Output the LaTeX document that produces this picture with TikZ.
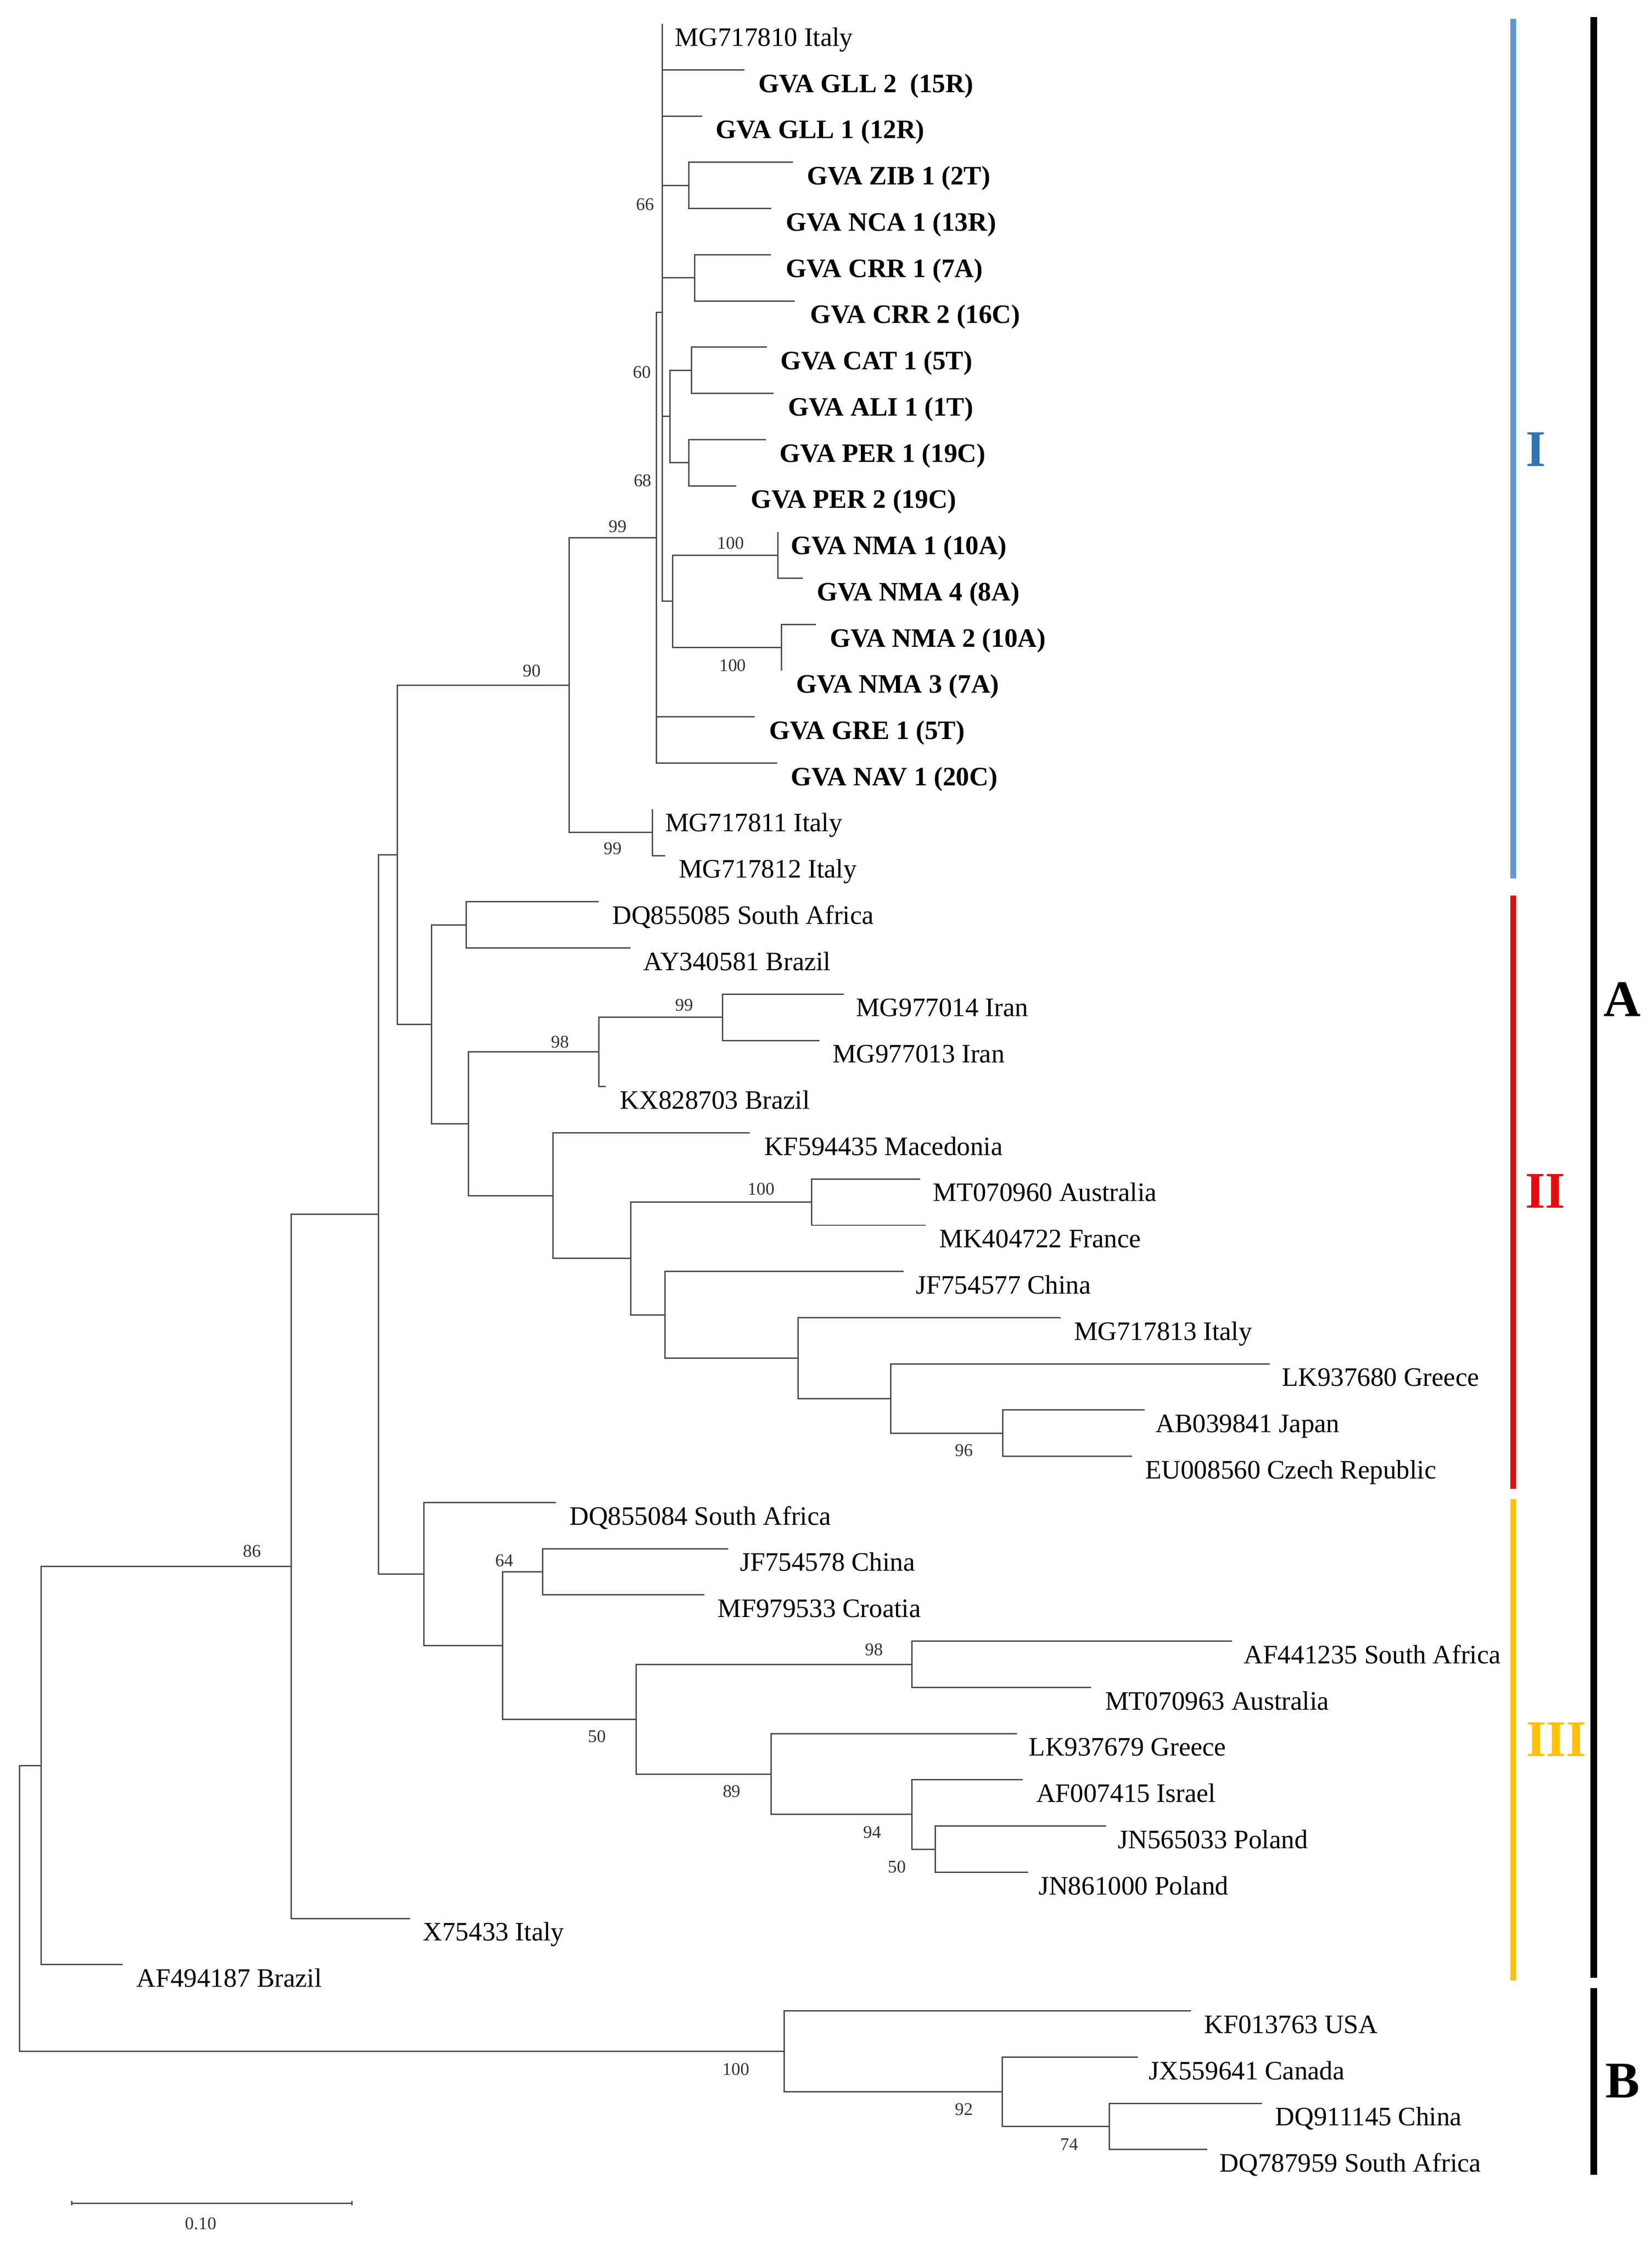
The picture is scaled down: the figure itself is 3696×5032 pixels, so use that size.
\documentclass[tikz,border=0pt]{standalone}
\usepackage{fontspec}
\setmainfont{Liberation Serif}
\definecolor{brc}{HTML}{4A4A4A}
\definecolor{cIbar}{HTML}{5B9BD5}
\definecolor{cItxt}{HTML}{2E75B6}
\definecolor{cII}{HTML}{E30B0B}
\definecolor{cIII}{HTML}{FFC000}
\tikzset{
  br/.style={draw=brc, line width=0.3pt},
  lab/.style={anchor=base west, inner sep=0pt, font=\fontsize{5.95}{7}\selectfont},
  blab/.style={anchor=base west, inner sep=0pt, font=\fontsize{5.95}{7}\selectfont\bfseries},
  bs/.style={inner sep=0pt, font=\fontsize{4}{5}\selectfont, text=black!80},
  cbar/.style={line width=1.4pt},
  kbar/.style={line width=1.55pt, draw=black},
  clab/.style={anchor=west, inner sep=0pt, font=\fontsize{11.5}{13}\selectfont\bfseries},
}
\begin{document}
\begin{tikzpicture}[x=0.1pt,y=-0.1pt]
\useasboundingbox (0,0) rectangle (3696,5032);
\fill[white] (0,0) rectangle (3696,5032);

% ---------- leaf tips ----------
\foreach \i/\x in {0/1482.3,1/1665.9,2/1570.6,3/1774.5,4/1726.4,5/1724.8,6/1777.8,7/1715.6,8/1730.6,9/1714,
10/1647.7,11/1740.5,12/1796.9,13/1825.9,14/1748.8,15/1689,16/1738.9,17/1459.3,18/1488.3,19/1339.6,
20/1411.3,21/1887.7,22/1834,23/1356,24/1677.3,25/2059,26/2071.4,27/2021.6,28/2372.7,29/2841,
30/2561.6,31/2532.6,32/1244.3,33/1629,34/1576,35/2756.4,36/2441.4,37/2275.6,38/2289,39/2474.6,
40/2300.5,41/918,42/275,43/2664.5,44/2546,45/2824,46/2701.5}
  {\coordinate (t\i) at (\x,{53+103.4*\i});}

% ---------- internal nodes ----------
\coordinate (nZN)   at (1541.6,414.9);
\coordinate (nCRR)  at (1554.5,621.7);
\coordinate (nCA)   at (1547.7,828.5);
\coordinate (nPER)  at (1541.6,1035.3);
\coordinate (nCP)   at (1499,931.9);
\coordinate (nNa)   at (1740.5,1242.1);
\coordinate (nNb)   at (1748.8,1448.9);
\coordinate (nNMA)  at (1505,1345.5);
\coordinate (nT)    at (1482.3,699.25);
\coordinate (nNI)   at (1469.3,1203.3);
\coordinate (nMG)   at (1459.3,1862.5);
\coordinate (nNC)   at (1273.9,1532.9);
\coordinate (nDA)   at (1042.7,2069.3);
\coordinate (nIran) at (1617,2276.1);
\coordinate (nNE)   at (1339.6,2353.65);
\coordinate (nMT)   at (1816,2689.7);
\coordinate (nNS)   at (2243.6,3206.7);
\coordinate (nLK)   at (1993,3129.15);
\coordinate (nMGc)  at (1786.3,3038.7);
\coordinate (nJF)   at (1488,2941.75);
\coordinate (nMTJF) at (1411,2815.7);
\coordinate (nKF)   at (1237.5,2675.15);
\coordinate (nEKF)  at (1048,2514.4);
\coordinate (nII)   at (965.2,2291.85);
\coordinate (nAB)   at (888.7,1912.4);
\coordinate (nSF)   at (1214.5,3516.9);
\coordinate (nEIII) at (2040.2,3723.7);
\coordinate (nFP)   at (2093.2,4137.3);
\coordinate (nNF)   at (2040.2,4059.75);
\coordinate (nEN)   at (1725,3969.3);
\coordinate (nFF)   at (1423.4,3846.5);
\coordinate (nCE)   at (1125,3681.7);
\coordinate (nIII)  at (948.6,3521.75);
\coordinate (nBB)   at (846.9,2717.1);
\coordinate (nES)   at (651.8,3504.75);
\coordinate (nTN)   at (92,3950.3);
\coordinate (nSV)   at (2482,4757.7);
\coordinate (nNT)   at (2242.3,4680.15);
\coordinate (nB)    at (1755.1,4589.7);
\coordinate (root)  at (43.8,4270);

% ---------- branches ----------
\foreach \p/\c in {nT/t0,nT/t1,nT/t2,nT/nZN,nT/nCRR,nT/nCP,nT/nNMA,
  nZN/t3,nZN/t4,nCRR/t5,nCRR/t6,nCP/nCA,nCP/nPER,nCA/t7,nCA/t8,nPER/t9,nPER/t10,
  nNMA/nNa,nNMA/nNb,nNa/t11,nNa/t12,nNb/t13,nNb/t14,
  nNI/nT,nNI/t15,nNI/t16,nMG/t17,nMG/t18,nNC/nNI,nNC/nMG,
  nDA/t19,nDA/t20,nIran/t21,nIran/t22,nNE/nIran,nNE/t23,
  nMT/t25,nMT/t26,nNS/t30,nNS/t31,nLK/t29,nLK/nNS,nMGc/t28,nMGc/nLK,
  nJF/t27,nJF/nMGc,nMTJF/nMT,nMTJF/nJF,nKF/t24,nKF/nMTJF,nEKF/nNE,nEKF/nKF,
  nII/nDA,nII/nEKF,nAB/nNC,nAB/nII,
  nSF/t33,nSF/t34,nEIII/t35,nEIII/t36,nFP/t39,nFP/t40,nNF/t38,nNF/nFP,
  nEN/t37,nEN/nNF,nFF/nEIII,nFF/nEN,nCE/nSF,nCE/nFF,nIII/t32,nIII/nCE,
  nBB/nAB,nBB/nIII,nES/nBB,nES/t41,nTN/nES,nTN/t42,
  nSV/t45,nSV/t46,nNT/t44,nNT/nSV,nB/t43,nB/nNT,root/nTN,root/nB}
  {\draw[br] (\p) |- (\c);}

% ---------- leaf labels ----------
\foreach \i/\x/\s in {0/1508.4/MG717810 Italy,
  17/1486.7/MG717811 Italy,18/1516.7/MG717812 Italy,
  19/1368.3/DQ855085 South Africa,20/1438/AY340581 Brazil,
  21/1913.6/MG977014 Iran,22/1861/MG977013 Iran,23/1385.5/KX828703 Brazil,
  24/1708/KF594435 Macedonia,25/2085.7/MT070960 Australia,26/2100/MK404722 France,
  27/2047.5/JF754577 China,28/2401.4/MG717813 Italy,29/2866.5/LK937680 Greece,
  30/2584/AB039841 Japan,31/2560.8/EU008560 Czech Republic,
  32/1272.5/DQ855084 South Africa,33/1653.9/JF754578 China,34/1604/MF979533 Croatia,
  35/2781/AF441235 South Africa,36/2471/MT070963 Australia,37/2300.5/LK937679 Greece,
  38/2317/AF007415 Israel,39/2499.5/JN565033 Poland,40/2322/JN861000 Poland,
  41/944.7/X75433 Italy,42/303.6/AF494187 Brazil,43/2692.6/KF013763 USA,
  44/2569/JX559641 Canada,45/2852/DQ911145 China,46/2727/DQ787959 South Africa}
  {\node[lab] (L\i) at (\x,{103+103.4*\i}) {\s};}

\node[blab] (L1)  at (1695,{103+103.4*1})   {GVA GLL 2\ \ (15R)};
\node[blab] (L2)  at (1600,{103+103.4*2})   {GVA GLL 1 (12R)};
\node[blab] (L3)  at (1803.5,{103+103.4*3}) {GVA ZIB 1 (2T)};
\node[blab] (L4)  at (1757,{103+103.4*4})   {GVA NCA 1 (13R)};
\node[blab] (L5)  at (1757,{103+103.4*5})   {GVA CRR 1 (7A)};
\node[blab] (L6)  at (1811,{103+103.4*6})   {GVA CRR 2 (16C)};
\node[blab] (L7)  at (1744.7,{103+103.4*7}) {GVA CAT 1 (5T)};
\node[blab] (L8)  at (1762,{103+103.4*8})   {GVA ALI 1 (1T)};
\node[blab] (L9)  at (1743,{103+103.4*9})   {GVA PER 1 (19C)};
\node[blab] (L10) at (1678,{103+103.4*10})  {GVA PER 2 (19C)};
\node[blab] (L11) at (1767.9,{103+103.4*11}) {GVA NMA 1 (10A)};
\node[blab] (L12) at (1825.9,{103+103.4*12}) {GVA NMA 4 (8A)};
\node[blab] (L13) at (1854.9,{103+103.4*13}) {GVA NMA 2 (10A)};
\node[blab] (L14) at (1780.3,{103+103.4*14}) {GVA NMA 3 (7A)};
\node[blab] (L15) at (1719.8,{103+103.4*15}) {GVA GRE 1 (5T)};
\node[blab] (L16) at (1767.9,{103+103.4*16}) {GVA NAV 1 (20C)};

% ---------- bootstrap values ----------
\foreach \n/\x/\y/\v in {b1/1444/457/66,b2/1436.7/833/60,b3/1438/1075/68,b4/1382.4/1177.7/99,
  b5/1635/1214.7/100,b6/1639.4/1489/100,b7/1189.6/1501/90,b8/1371/1899/99,
  b9/1531/2249/99,b10/1253.5/2331/98,b11/1703/2660.7/100,b12/2157.5/3244.7/96,
  b13/1128.4/3492/64,b14/1335.5/3885/50,b15/1955.6/3690.5/98,b16/1637.3/4007.6/89,
  b17/1952/4100/94,b18/2007/4177.4/50,b19/564.3/3471/86,b20/1646.7/4630.3/100,
  b21/2157/4719.6/92,b22/2393/4797.7/74}
  {\node[bs] (\n) at (\x,\y) {\v};}

% ---------- scale bar ----------
\coordinate (s1) at (160.7,4929.6);
\coordinate (s2) at (787.5,4929.6);
\draw[br] (s1) -- (s2);
\draw[br] (s1) ++(0,-5) -- ++(0,10);
\draw[br] (s2) ++(0,-5) -- ++(0,10);
\node[bs] (sc) at (449,4975) {0.10};

% ---------- clade bars ----------
\coordinate (bI1) at (3386,42);    \coordinate (bI2) at (3386,1965);
\coordinate (bII1) at (3386,2004); \coordinate (bII2) at (3386,3331);
\coordinate (bIII1) at (3386,3354);\coordinate (bIII2) at (3386,4431);
\coordinate (bA1) at (3566,38.5);  \coordinate (bA2) at (3566,4425);
\coordinate (bB1) at (3566,4448);  \coordinate (bB2) at (3566,4866);
\draw[cbar, draw=cIbar] (bI1) -- (bI2);
\draw[cbar, draw=cII] (bII1) -- (bII2);
\draw[cbar, draw=cIII] (bIII1) -- (bIII2);
\draw[kbar] (bA1) -- (bA2);
\draw[kbar] (bB1) -- (bB2);
\node[clab, text=cItxt] (cI) at (3412,1005) {I};
\node[clab, text=cII] (cII) at (3411,2665) {II};
\node[clab, text=cIII] (cIIIl) at (3413,3892) {III};
\node[clab] (cA) at (3586,2236) {A};
\node[clab] (cB) at (3590,4656) {B};
\end{tikzpicture}
\end{document}
